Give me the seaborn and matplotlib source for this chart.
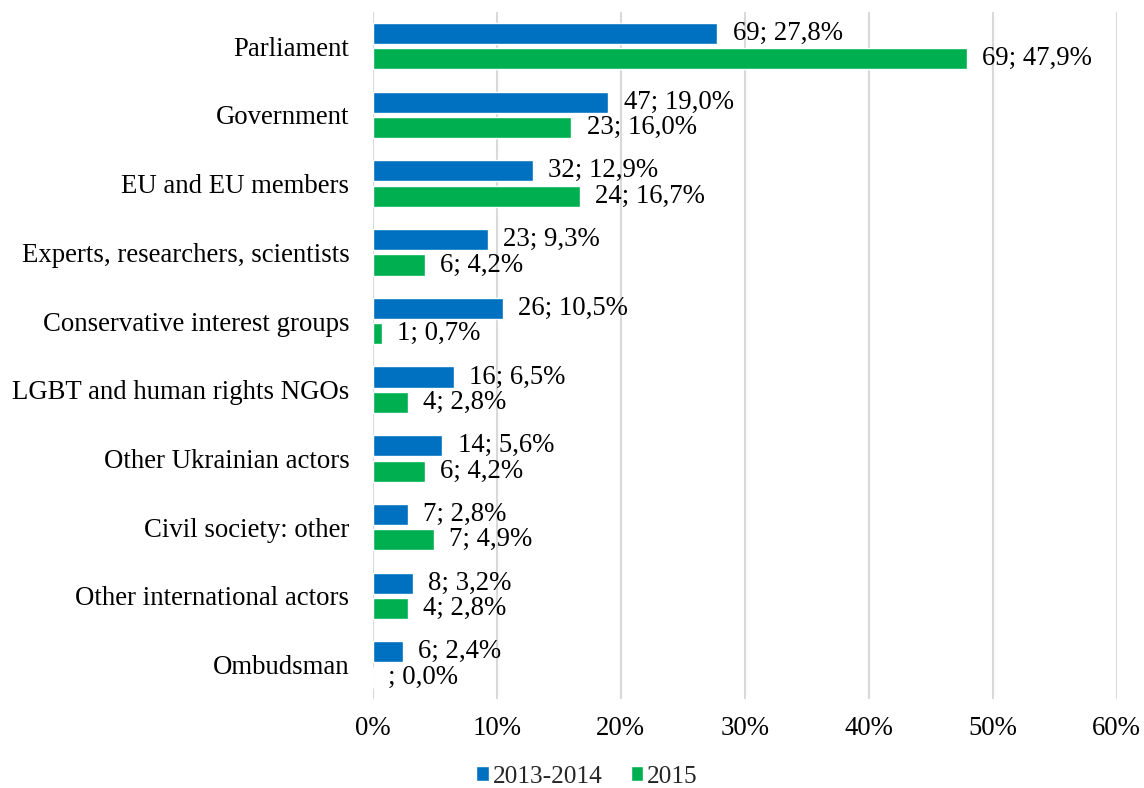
import matplotlib
matplotlib.use("Agg")
import matplotlib.pyplot as plt
import seaborn as sns
import pandas as pd

categories = [
    "Parliament",
    "Government",
    "EU and EU members",
    "Experts, researchers, scientists",
    "Conservative interest groups",
    "LGBT and human rights NGOs",
    "Other Ukrainian actors",
    "Civil society: other",
    "Other international actors",
    "Ombudsman",
]
series_names = ["2013-2014", "2015"]
pct_2013_2014 = [27.8, 19.0, 12.9, 9.3, 10.5, 6.5, 5.6, 2.8, 3.2, 2.4]
pct_2015 = [47.9, 16.0, 16.7, 4.2, 0.7, 2.8, 4.2, 4.9, 2.8, 0.0]
count_2013_2014 = [69, 47, 32, 23, 26, 16, 14, 7, 8, 6]
count_2015 = [69, 23, 24, 6, 1, 4, 6, 7, 4, None]
x_ticks = [0, 10, 20, 30, 40, 50, 60]

colors = ["#0070C0", "#00B050"]
FS = 19.3

df = pd.DataFrame({
    "category": categories * 2,
    "series": [series_names[0]] * len(categories) + [series_names[1]] * len(categories),
    "pct": pct_2013_2014 + pct_2015,
    "count": count_2013_2014 + count_2015,
})

sns.set_theme(style="white")
plt.rcParams["font.family"] = ["Liberation Serif", "DejaVu Serif"]

fig = plt.figure(figsize=(11.44, 7.88), dpi=100)
ax = fig.add_axes([0.326, 0.113, 0.650, 0.872])

sns.barplot(
    data=df, y="category", x="pct", hue="series", hue_order=series_names,
    order=categories, palette=colors, orient="h", width=0.74, gap=0.17,
    saturation=1, ax=ax, zorder=3,
)

# value labels: "count; percent" with decimal comma
for cont, name in zip(ax.containers, series_names):
    sub = df[df["series"] == name].set_index("category").loc[categories]
    labels = []
    for c, p in zip(sub["count"], sub["pct"]):
        cs = "" if pd.isna(c) else str(int(c))
        labels.append(f"{cs}; {p:.1f}%".replace(".", ","))
    ax.bar_label(cont, labels=labels, padding=11, fontsize=FS, color="#000000")

ax.set_xlim(0, 60)
ax.set_ylim(len(categories) - 0.5, -0.5)
ax.set_xticks(x_ticks)
ax.set_xticklabels([f"{t}%" for t in x_ticks])
ax.set_xlabel("")
ax.set_ylabel("")
ax.grid(axis="x", color="#D9D9D9", linewidth=1.5, zorder=0)
ax.grid(axis="y", visible=False)
for s in ax.spines.values():
    s.set_visible(False)
ax.tick_params(axis="y", length=0, pad=17, labelsize=FS, labelcolor="#000000")
ax.tick_params(axis="x", length=0, pad=12, labelsize=FS, labelcolor="#000000")

ax.legend(
    loc="center", bbox_to_anchor=(0.288, -0.113), ncol=2, frameon=False,
    fontsize=18.3, handlelength=0.5, handleheight=0.5, handletextpad=0.15,
    columnspacing=1.1,
)

fig.savefig("out.png", dpi=100)
